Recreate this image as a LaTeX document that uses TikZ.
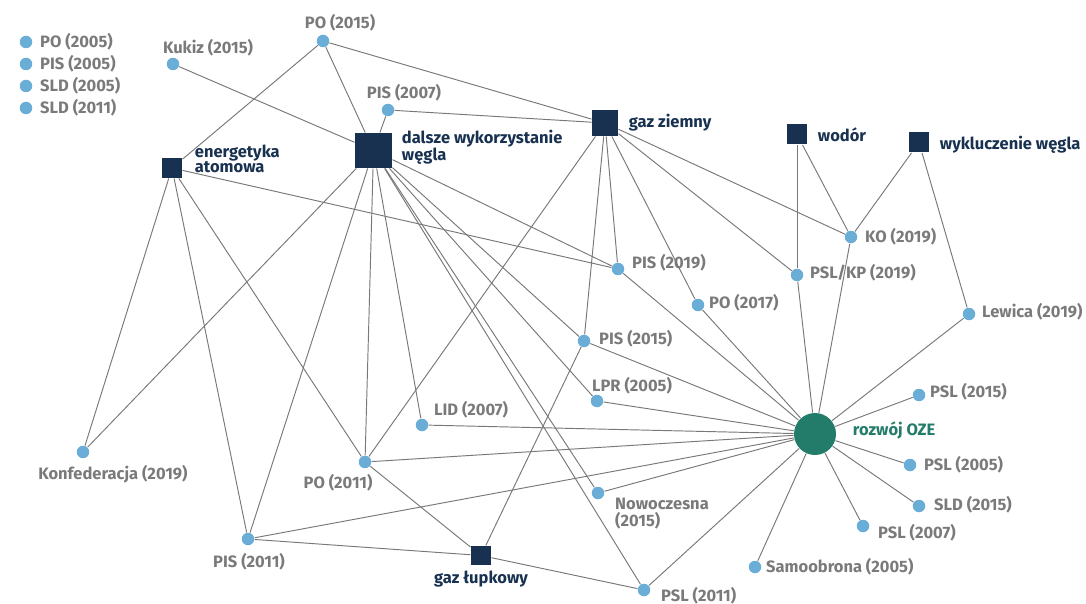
\documentclass[tikz,border=0pt]{standalone}
\usepackage{fontspec}
\setmainfont{Fira Sans}
\usetikzlibrary{positioning}
\definecolor{issuenavy}{RGB}{24,49,80}
\definecolor{partyblue}{RGB}{106,174,216}
\definecolor{ozegreen}{RGB}{35,124,105}
\definecolor{labelgray}{RGB}{122,122,122}
\definecolor{edgegray}{RGB}{120,120,120}
\tikzset{every picture/.style={line width=0.95pt}}

\begin{document}
\begin{tikzpicture}[x=1pt, y=-1pt,
    party/.style={circle, fill=partyblue, inner sep=0pt, minimum size=12.5pt},
    issue/.style={rectangle, fill=issuenavy, inner sep=0pt, minimum size=20pt},
    plabel/.style={inner sep=0pt, text=labelgray, align=left, font=\fontsize{16.5}{16.5}\selectfont\bfseries},
    ilabel/.style={inner sep=0pt, text=issuenavy, align=left, font=\fontsize{16.5}{15.5}\selectfont\bfseries},
    link/.style={draw=edgegray}]
    \useasboundingbox (0,0) rectangle (1086,604);

    % Legend of parties without links
    \node[party] (po05) at (26,42) {};
    \node[party] (pis05) at (26,64) {};
    \node[party] (sld05) at (26,86) {};
    \node[party] (sld11) at (26,108) {};
    \node[plabel, right=7pt of po05] (po05-l) {PO (2005)};
    \node[plabel, right=7pt of pis05] (pis05-l) {PIS (2005)};
    \node[plabel, right=7pt of sld05] (sld05-l) {SLD (2005)};
    \node[plabel, right=7pt of sld11] (sld11-l) {SLD (2011)};

    % Issues
    \node[issue] (atom) at (172,168) {};
    \node[issue, minimum width=37pt, minimum height=35pt] (wegiel) at (373.5,150.5) {};
    \node[issue, minimum size=26pt] (gaz) at (605,123) {};
    \node[issue] (wodor) at (797,134.5) {};
    \node[issue] (wyklucz) at (919,142.5) {};
    \node[issue, minimum width=20pt, minimum height=19pt] (lupek) at (481,555.5) {};
    \node[circle, fill=ozegreen, inner sep=0pt, minimum size=42pt] (oze) at (815,434) {};

    \node[ilabel, right=12pt of atom, yshift=9pt] (atom-l) {energetyka\\atomowa};
    \node[ilabel, right=9pt of wegiel, yshift=3pt] (wegiel-l) {dalsze wykorzystanie\\węgla};
    \node[ilabel, right=10pt of gaz] (gaz-l) {gaz ziemny};
    \node[ilabel, right=10pt of wodor] (wodor-l) {wodór};
    \node[ilabel, right=10pt of wyklucz, yshift=-2pt] (wyklucz-l) {wykluczenie węgla};
    \node[ilabel, below=5pt of lupek] (lupek-l) {gaz łupkowy};
    \node[ilabel, text=ozegreen, right=16pt of oze, yshift=4pt] (oze-l) {rozwój OZE};

    % Parties
    \node[party] (kukiz) at (173,64) {};
    \node[party] (po15) at (323,41) {};
    \node[party] (pis07) at (388,110) {};
    \node[party] (ko) at (851,237) {};
    \node[party] (pslkp) at (797,275) {};
    \node[party] (pis19) at (618,269) {};
    \node[party] (po17) at (698,305) {};
    \node[party] (lewica) at (969,314) {};
    \node[party] (pis15) at (584,341) {};
    \node[party] (lpr) at (597,401) {};
    \node[party] (lid) at (422,425) {};
    \node[party] (konf) at (83,452) {};
    \node[party] (po11) at (365,462) {};
    \node[party] (pis11) at (248,539) {};
    \node[party] (nowo) at (598,493) {};
    \node[party] (psl11) at (644,590) {};
    \node[party] (samo) at (755,567) {};
    \node[party] (psl07) at (863,526) {};
    \node[party] (sld15) at (919,506) {};
    \node[party] (psl05) at (910,465) {};
    \node[party] (psl15) at (919,395) {};

    \node[plabel, above=1pt of kukiz, xshift=35pt] (kukiz-l) {Kukiz (2015)};
    \node[plabel, above=3pt of po15, xshift=17pt] (po15-l) {PO (2015)};
    \node[plabel, above=2pt of pis07, xshift=16pt] (pis07-l) {PIS (2007)};
    \node[plabel, right=7pt of ko] (ko-l) {KO (2019)};
    \node[plabel, right=6pt of pslkp, yshift=2pt] (pslkp-l) {PSL/KP (2019)};
    \node[plabel, right=4pt of po17, yshift=2pt] (po17-l) {PO (2017)};
    \node[plabel, right=6pt of lewica, yshift=2pt] (lewica-l) {Lewica (2019)};
    \node[plabel, right=7pt of pis19, yshift=6pt] (pis19-l) {PIS (2019)};
    \node[plabel, right=8pt of pis15, yshift=2pt] (pis15-l) {PIS (2015)};
    \node[plabel, above=0pt of lpr, xshift=35pt] (lpr-l) {LPR (2005)};
    \node[plabel, above=0pt of lid, xshift=49pt] (lid-l) {LID (2007)};
    \node[plabel, below=6pt of konf, xshift=30pt] (konf-l) {Konfederacja (2019)};
    \node[plabel, below=5pt of po11, xshift=-27pt] (po11-l) {PO (2011)};
    \node[plabel, below=7pt of pis11, xshift=1pt] (pis11-l) {PIS (2011)};
    \node[plabel, below right=0pt and 12pt of nowo] (nowo-l) {Nowoczesna\\(2015)};
    \node[plabel, right=10pt of psl11, yshift=-6pt] (psl11-l) {PSL (2011)};
    \node[plabel, right=4pt of samo] (samo-l) {Samoobrona (2005)};
    \node[plabel, right=8pt of psl07, yshift=-7pt] (psl07-l) {PSL (2007)};
    \node[plabel, right=8pt of sld15, yshift=1pt] (sld15-l) {SLD (2015)};
    \node[plabel, right=7pt of psl05] (psl05-l) {PSL (2005)};
    \node[plabel, right=4pt of psl15, yshift=3pt] (psl15-l) {PSL (2015)};

    % Connections: energetyka atomowa
    \draw[link] (atom) -- (po15);
    \draw[link] (atom) -- (konf);
    \draw[link] (atom) -- (pis11);
    \draw[link] (atom) -- (po11);
    \draw[link] (atom) -- (pis19);

    % Connections: dalsze wykorzystanie wegla
    \draw[link] (wegiel) -- (kukiz);
    \draw[link] (wegiel) -- (po15);
    \draw[link] (wegiel) -- (pis07);
    \draw[link] (wegiel) -- (konf);
    \draw[link] (wegiel) -- (pis11);
    \draw[link] (wegiel) -- (po11);
    \draw[link] (wegiel) -- (lid);
    \draw[link] (wegiel) -- (pis19);
    \draw[link] (wegiel) -- (pis15);
    \draw[link] (wegiel) -- (lpr);
    \draw[link] (wegiel) -- (nowo);
    \draw[link] (wegiel) -- (psl11);

    % Connections: gaz ziemny
    \draw[link] (gaz) -- (po15);
    \draw[link] (gaz) -- (pis07);
    \draw[link] (gaz) -- (po11);
    \draw[link] (gaz) -- (pis15);
    \draw[link] (gaz) -- (pis19);
    \draw[link] (gaz) -- (po17);
    \draw[link] (gaz) -- (pslkp);
    \draw[link] (gaz) -- (ko);

    % Connections: wodor, wykluczenie wegla
    \draw[link] (wodor) -- (pslkp);
    \draw[link] (wodor) -- (ko);
    \draw[link] (wyklucz) -- (ko);
    \draw[link] (wyklucz) -- (lewica);

    % Connections: gaz lupkowy
    \draw[link] (lupek) -- (po11);
    \draw[link] (lupek) -- (pis11);
    \draw[link] (lupek) -- (pis15);
    \draw[link] (lupek) -- (psl11);

    % Connections: rozwoj OZE
    \draw[link] (oze) -- (ko);
    \draw[link] (oze) -- (pslkp);
    \draw[link] (oze) -- (lewica);
    \draw[link] (oze) -- (pis19);
    \draw[link] (oze) -- (po17);
    \draw[link] (oze) -- (pis15);
    \draw[link] (oze) -- (lpr);
    \draw[link] (oze) -- (lid);
    \draw[link] (oze) -- (po11);
    \draw[link] (oze) -- (pis11);
    \draw[link] (oze) -- (nowo);
    \draw[link] (oze) -- (psl11);
    \draw[link] (oze) -- (samo);
    \draw[link] (oze) -- (psl07);
    \draw[link] (oze) -- (sld15);
    \draw[link] (oze) -- (psl05);
    \draw[link] (oze) -- (psl15);
\end{tikzpicture}
\end{document}
